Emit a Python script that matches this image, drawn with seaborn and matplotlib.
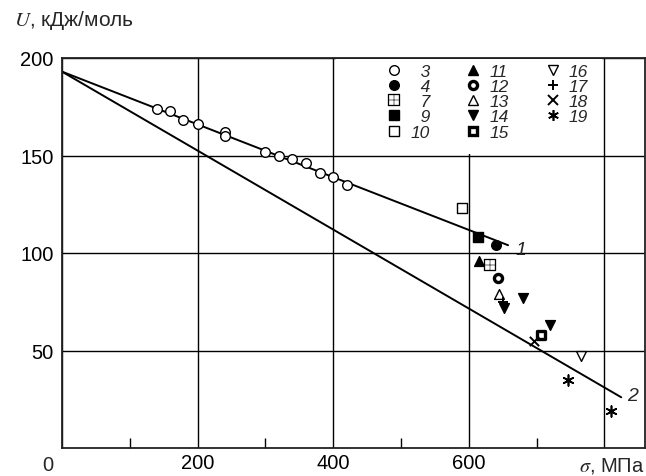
import matplotlib
matplotlib.use("Agg")
import matplotlib.pyplot as plt
import seaborn as sns
import pandas as pd
from matplotlib.patches import Rectangle
from matplotlib.lines import Line2D

# -----------------------------
# CONFIG
# -----------------------------
sns.set_style("white")
plt.rcParams["font.family"] = ["Liberation Sans", "DejaVu Sans"]
plt.rcParams["mathtext.fontset"] = "stix"

# -----------------------------
# DATA
# -----------------------------
SAMPLE = ["3"] * 13 + ["4", "7", "9", "10", "11", "12", "13",
                       "14", "14", "14", "15", "16", "17", "18", "19", "19"]
SIGMA = [140, 160, 178, 200, 240, 240, 300, 320, 340, 360, 380, 400, 421,
         640, 632, 614, 590, 615, 643, 645,
         652, 680, 720, 706, 765, 650, 696, 747, 810]
U = [174, 173, 168, 166, 162, 160, 152, 150, 148, 146, 141, 139, 135,
     104, 94, 108, 123, 96, 87, 79,
     72, 77, 63, 58, 47, 75, 55, 35, 19]

LINE1_SIGMA = [0, 658]
LINE1_U = [193, 104]
LINE2_SIGMA = [0, 825]
LINE2_U = [193, 26]
LINE_NAMES = ["1", "2"]

LEGEND_ORDER = ["3", "4", "7", "9", "10", "11", "12", "13", "14", "15",
                "16", "17", "18", "19"]

X_TICKS = [0, 200, 400, 600, 800]
X_TICK_LABELS = ["", "200", "400", "600", ""]
X_MINOR = [100, 300, 500, 700]
Y_TICKS = [50, 100, 150, 200]

# marker styles per sample number
STYLES = {
    "3": dict(marker="o", s=48, facecolor="white", linewidth=1.0),
    "4": dict(marker="o", s=48, facecolor="black", linewidth=1.0),
    "7": dict(marker="$\\boxplus$", s=75, facecolor="black", linewidth=0.2),
    "9": dict(marker="s", s=42, facecolor="black", linewidth=1.0),
    "10": dict(marker="s", s=42, facecolor="white", linewidth=1.0),
    "11": dict(marker="^", s=50, facecolor="black", linewidth=1.0),
    "12": dict(marker="o", s=34, facecolor="white", linewidth=2.4),
    "13": dict(marker="^", s=50, facecolor="white", linewidth=1.0),
    "14": dict(marker="v", s=50, facecolor="black", linewidth=1.0),
    "15": dict(marker="s", s=34, facecolor="white", linewidth=2.4),
    "16": dict(marker="v", s=50, facecolor="white", linewidth=1.0),
    "17": dict(marker="+", s=60, facecolor="black", linewidth=1.4),
    "18": dict(marker="x", s=45, facecolor="black", linewidth=1.4),
    "19": dict(marker=(6, 2, 0), s=60, facecolor="black", linewidth=1.2),
}

df = pd.DataFrame({"sample": SAMPLE, "sigma": SIGMA, "U": U})

# -----------------------------
# PLOT
# -----------------------------
fig = plt.figure(figsize=(6.46, 4.77), dpi=100)
ax = fig.add_axes([62 / 646, 28 / 477, 583 / 646, 390 / 477])

ax.set_xlim(0, 860)
ax.set_ylim(0, 200)
ax.set_xticks(X_TICKS)
ax.set_xticklabels(X_TICK_LABELS)
ax.set_xticks(X_MINOR, minor=True)
ax.set_yticks(Y_TICKS)
ax.set_yticklabels([str(v) for v in Y_TICKS])
ax.tick_params(axis="both", which="major", length=0, labelsize=14.5, colors="black")
ax.tick_params(axis="x", which="major", pad=3.5)
ax.tick_params(axis="y", which="major", pad=6)
ax.tick_params(axis="x", which="minor", direction="in", length=7, width=1,
               bottom=True, color="black")
ax.grid(True, which="major", color="black", linewidth=1.0)
ax.set_axisbelow(True)
for sp in ax.spines.values():
    sp.set_color("#222222")
    sp.set_linewidth(1.3)

# white box behind the legend hides the grid cell
ax.add_patch(Rectangle((404, 151), 392, 48.5, facecolor="white",
                       edgecolor="none", zorder=1))

sns.lineplot(x=LINE1_SIGMA, y=LINE1_U, color="black", linewidth=1.4, ax=ax, zorder=2)
sns.lineplot(x=LINE2_SIGMA, y=LINE2_U, color="black", linewidth=1.4, ax=ax, zorder=2)

for name in LEGEND_ORDER:
    sub = df[df["sample"] == name]
    sns.scatterplot(data=sub, x="sigma", y="U", ax=ax, zorder=3, legend=False,
                    color="black", edgecolor="black", **STYLES[name])

ax.set_xlabel("")
ax.set_ylabel("")

# line labels
ax.annotate(LINE_NAMES[0], xy=(LINE1_SIGMA[-1], LINE1_U[-1]), xytext=(5, -3),
            textcoords="offset points", ha="left", va="center",
            fontsize=14, style="italic")
ax.annotate(LINE_NAMES[1], xy=(LINE2_SIGMA[-1], LINE2_U[-1]), xytext=(4, 1),
            textcoords="offset points", ha="left", va="center",
            fontsize=14, style="italic")

# axis captions
ax.annotate("0", xy=(0, 0), xycoords="axes fraction", xytext=(-10, -12),
            textcoords="offset points", ha="center", va="center", fontsize=14.5)
ax.annotate(r"$\sigma$, МПа", xy=(1, 0), xycoords="axes fraction",
            xytext=(0, -12), textcoords="offset points", ha="right",
            va="center", fontsize=14.5)
fig.text(14 / 646, 1 - 21 / 477, r"$U$, кДж/моль", ha="left", va="center",
         fontsize=15)

# legend
handles = []
labels = []
for name in LEGEND_ORDER:
    st = STYLES[name]
    h = Line2D([], [], linestyle="none", marker=st["marker"],
               markersize=st["s"] ** 0.5, markerfacecolor=st["facecolor"],
               markeredgecolor="black", markeredgewidth=st["linewidth"],
               color="black")
    handles.append(h)
    labels.append(name if len(name) == 2 else "\u2007" + name)

ax.legend(handles, labels, ncol=3, loc="upper left",
          bbox_to_anchor=(0.555, 0.985), frameon=False, borderaxespad=0,
          borderpad=0, handlelength=1.0, handletextpad=0.45,
          columnspacing=2.0, labelspacing=0.0,
          prop={"style": "italic", "size": 12.5})

fig.savefig("out.png", dpi=100)
